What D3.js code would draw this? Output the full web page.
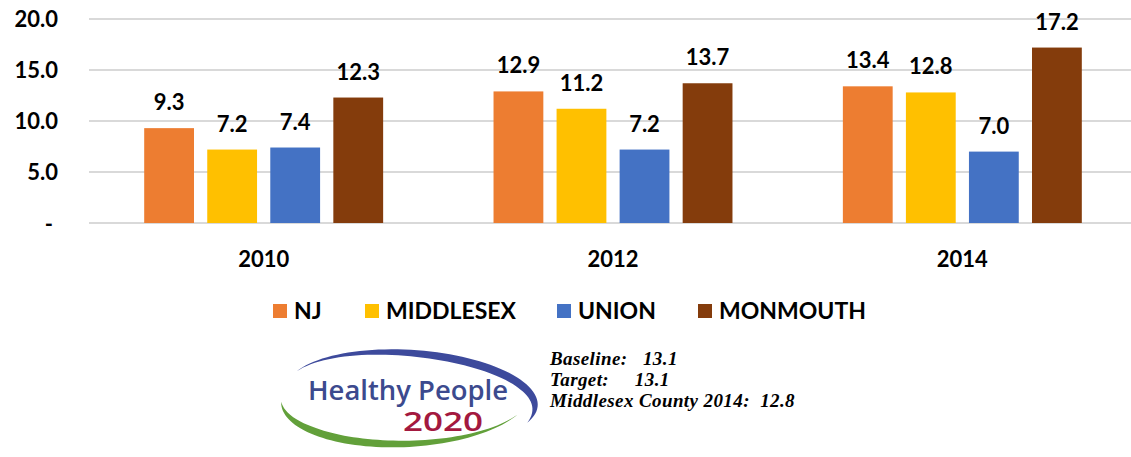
<!DOCTYPE html>
<html>
<head>
<meta charset="utf-8">
<script src="https://cdn.jsdelivr.net/npm/d3@7"></script>
<style>
  html, body { margin: 0; padding: 0; background: #fff; }
  svg { display: block; }
</style>
</head>
<body>
<div id="main"></div>
<script>
// chart data
const years = ["2010", "2012", "2014"]
const series = ["NJ", "MIDDLESEX", "UNION", "MONMOUTH"]
const colors = ["#ED7D31", "#FFC000", "#4472C4", "#843C0C"]
const values = {
  NJ: [9.3, 12.9, 13.4],
  MIDDLESEX: [7.2, 11.2, 12.8],
  UNION: [7.4, 7.2, 7.0],
  MONMOUTH: [12.3, 13.7, 17.2]
}
const yTicks = [0, 5, 10, 15, 20]
const notes = ["Baseline:   13.1", "Target:     13.1", "Middlesex County 2014:  12.8"]

const width = 1131
const height = 457
const sans = "Lato, 'Open Sans', sans-serif"

const svg = d3.select("#main").append("svg")
  .attr("width", width)
  .attr("height", height)
  .style("font-family", sans)

const x0 = d3.scaleBand().domain(years).range([89, 1137]).paddingInner(0.316).paddingOuter(0.158)
const x1 = d3.scaleBand().domain(series).range([0, x0.bandwidth()]).paddingInner(0.21)
const y = d3.scaleLinear().domain([0, 20]).range([223, 19])
const color = d3.scaleOrdinal().domain(series).range(colors)

// gridlines
svg.append("g").selectAll("line")
  .data(yTicks)
  .enter().append("line")
  .attr("x1", 89).attr("x2", width)
  .attr("y1", d => y(d)).attr("y2", d => y(d))
  .attr("stroke", "#d9d9d9")
  .attr("stroke-width", 2)

// y axis labels
svg.append("g").selectAll("text")
  .data(yTicks)
  .enter().append("text")
  .attr("x", d => d === 0 ? 53 : 58)
  .attr("y", d => y(d) + (d === 0 ? 9 : 8))
  .attr("text-anchor", "end")
  .attr("font-size", 22)
  .attr("font-weight", "bold")
  .text(d => d === 0 ? "-" : d.toFixed(1))

// bars
const groups = svg.append("g").selectAll("g")
  .data(years)
  .enter().append("g")
  .attr("transform", d => `translate(${x0(d)},0)`)

const cells = groups.selectAll("g")
  .data((yr, i) => series.map(s => ({ key: s, value: values[s][i] })))
  .enter().append("g")

cells.append("rect")
  .attr("x", d => x1(d.key))
  .attr("width", x1.bandwidth())
  .attr("y", d => y(d.value))
  .attr("height", d => y(0) - y(d.value))
  .attr("fill", d => color(d.key))

cells.append("text")
  .attr("x", d => x1(d.key) + x1.bandwidth() / 2)
  .attr("y", d => y(d.value) - 18)
  .attr("text-anchor", "middle")
  .attr("font-size", 22)
  .attr("font-weight", "bold")
  .text(d => d.value.toFixed(1))

// category labels
svg.append("g").selectAll("text")
  .data(years)
  .enter().append("text")
  .attr("x", d => x0(d) + x0.bandwidth() / 2)
  .attr("y", 267)
  .attr("text-anchor", "middle")
  .attr("font-size", 22)
  .attr("font-weight", "bold")
  .text(d => d)

// legend
const legendX = [273, 365, 557, 698]
const legend = svg.append("g").selectAll("g")
  .data(series)
  .enter().append("g")
  .attr("transform", (d, i) => `translate(${legendX[i]},304)`)

legend.append("rect")
  .attr("width", 14).attr("height", 14)
  .attr("fill", d => color(d))

legend.append("text")
  .attr("x", 21)
  .attr("y", 15)
  .attr("font-size", 23)
  .attr("font-weight", "bold")
  .text(d => d)

// Healthy People 2020 logo: two tapered crescents round the wordmark
const logo = svg.append("g")
function crescent(cx, cy, rx, ry, rot, a0, a1, wmax, peak) {
  const n = 60, outer = [], inner = []
  const r = rot * Math.PI / 180
  for (let i = 0; i <= n; i++) {
    const u = i / n
    const t = (a0 + (a1 - a0) * u) * Math.PI / 180
    const k = u < peak ? u / peak : (1 - u) / (1 - peak)
    const w = wmax * Math.sin(k * Math.PI / 2)
    const pt = (ax, ay) => {
      const px = ax * Math.cos(t), py = -ay * Math.sin(t)
      return [cx + px * Math.cos(r) - py * Math.sin(r), cy + px * Math.sin(r) + py * Math.cos(r)]
    }
    outer.push(pt(rx, ry))
    inner.push(pt(rx - w, ry - w))
  }
  return d3.line()(outer.concat(inner.reverse())) + "Z"
}
logo.append("path")
  .attr("d", crescent(412, 397, 126, 47, 4, 158, -22, 9, 0.72))
  .attr("fill", "#3d4a9c")
logo.append("path")
  .attr("d", crescent(406, 397, 125, 50, -3, 178, 332, 8, 0.3))
  .attr("fill", "#62a03a")

logo.append("text")
  .attr("x", 308).attr("y", 400)
  .style("font-family", "'Open Sans', sans-serif")
  .attr("font-size", 27)
  .attr("font-weight", 600)
  .attr("textLength", 200)
  .attr("lengthAdjust", "spacingAndGlyphs")
  .attr("fill", "#3c4a8e")
  .text("Healthy People")

logo.append("text")
  .attr("x", 403).attr("y", 431)
  .style("font-family", "'Open Sans', sans-serif")
  .attr("font-size", 27)
  .attr("font-weight", 600)
  .attr("textLength", 80)
  .attr("lengthAdjust", "spacingAndGlyphs")
  .attr("fill", "#a3193f")
  .text("2020")

// notes next to logo
svg.append("g").selectAll("text")
  .data(notes)
  .enter().append("text")
  .attr("x", 550)
  .attr("y", (d, i) => 365 + i * 21)
  .style("font-family", "'Liberation Serif', 'DejaVu Serif', serif")
  .style("white-space", "pre")
  .style("letter-spacing", "0.4px")
  .attr("font-size", 19)
  .attr("font-style", "italic")
  .attr("font-weight", "bold")
  .text(d => d)
</script>
</body>
</html>
